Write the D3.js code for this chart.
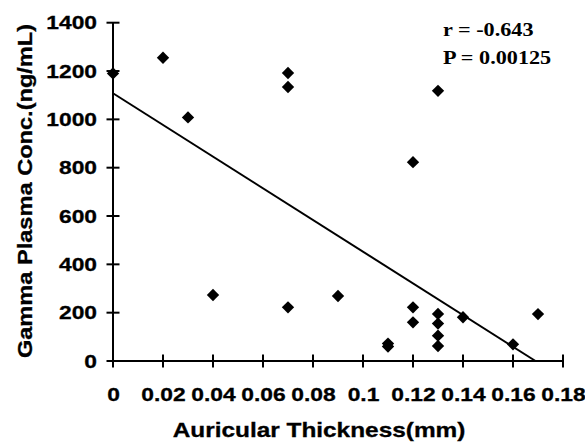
<!DOCTYPE html>
<html>
<head>
<meta charset="utf-8">
<script src="https://cdn.jsdelivr.net/npm/d3@7"></script>
<style>
  body { margin: 0; background: #fff; }
</style>
</head>
<body>
<script>
// auricular thickness (mm) vs gamma plasma conc (ng/mL)
var thickness = [0, 0.02, 0.03, 0.04, 0.07, 0.07, 0.07, 0.09, 0.11, 0.11,
                 0.12, 0.12, 0.12, 0.13, 0.13, 0.13, 0.13, 0.13, 0.14, 0.16, 0.17];
var conc = [1190, 1255, 1008, 273, 1192, 1134, 222, 269, 72, 60,
            823, 222, 160, 1118, 195, 155, 105, 62, 181, 69, 194];

var xTicks = [0, 0.02, 0.04, 0.06, 0.08, 0.1, 0.12, 0.14, 0.16, 0.18];
var yTicks = [0, 200, 400, 600, 800, 1000, 1200, 1400];

// trend line end points
var trend = [[0, 1108], [0.169, 0]];

var stats = ["r = -0.643", "P = 0.00125"];

var sans = "Arial, 'Liberation Sans', sans-serif";
var serif = "'Times New Roman', 'Liberation Serif', serif";
var stretch = 1.2; // the original lettering is wide

var w = 585, h = 442;
var svg = d3.select("body").append("svg")
    .attr("width", w)
    .attr("height", h);

var xScale = d3.scaleLinear().domain([0, 0.18]).range([113, 563]);
var yScale = d3.scaleLinear().domain([0, 1400]).range([361, 22.7]);

// axis lines
svg.append("line")
    .attr("x1", xScale(0)).attr("x2", xScale(0.18))
    .attr("y1", yScale(0)).attr("y2", yScale(0))
    .attr("stroke", "#000").attr("stroke-width", 2);
svg.append("line")
    .attr("x1", xScale(0)).attr("x2", xScale(0))
    .attr("y1", yScale(0)).attr("y2", yScale(1400))
    .attr("stroke", "#000").attr("stroke-width", 2);

// tick marks crossing the axes
svg.append("g").attr("class", "xticks").selectAll("line")
    .data(xTicks)
    .enter()
    .append("line")
    .attr("x1", function(d) { return xScale(d); })
    .attr("x2", function(d) { return xScale(d); })
    .attr("y1", yScale(0) - 6.5)
    .attr("y2", yScale(0) + 6.5)
    .attr("stroke", "#000")
    .attr("stroke-width", 2);
svg.append("g").attr("class", "yticks").selectAll("line")
    .data(yTicks)
    .enter()
    .append("line")
    .attr("x1", xScale(0) - 6.5)
    .attr("x2", xScale(0) + 6.5)
    .attr("y1", function(d) { return yScale(d); })
    .attr("y2", function(d) { return yScale(d); })
    .attr("stroke", "#000")
    .attr("stroke-width", 2);

// tick labels from the d3 axes (lines and domain dropped, drawn above)
var xAxis = svg.append("g")
    .attr("transform", "translate(0," + yScale(0) + ")")
    .call(d3.axisBottom(xScale).tickValues(xTicks).tickSize(0).tickFormat(d3.format("")));
var yAxis = svg.append("g")
    .attr("transform", "translate(" + xScale(0) + ",0)")
    .call(d3.axisLeft(yScale).tickValues(yTicks).tickSize(0).tickFormat(d3.format("d")));
[xAxis, yAxis].forEach(function(g) {
  g.select(".domain").remove();
  g.selectAll(".tick line").remove();
  g.selectAll(".tick text")
      .attr("font-size", 19)
      .attr("font-family", sans)
      .attr("font-weight", "bold")
      .attr("fill", "#000")
      .attr("stroke", "#000")
      .attr("stroke-width", 0.3)
      .attr("transform", "scale(" + stretch + ",1)");
});
xAxis.selectAll(".tick text").attr("y", 40).attr("dy", 0);
yAxis.selectAll(".tick text").attr("x", -16 / stretch);

// trend line
svg.append("line")
    .attr("x1", xScale(trend[0][0]))
    .attr("y1", yScale(trend[0][1]))
    .attr("x2", xScale(trend[1][0]))
    .attr("y2", yScale(trend[1][1]))
    .attr("stroke", "#000")
    .attr("stroke-width", 2);

// points
var diamond = d3.symbol().type(d3.symbolSquare).size(76);
svg.selectAll("path.pt")
    .data(thickness)
    .enter()
    .append("path")
    .attr("class", "pt")
    .attr("d", diamond)
    .attr("transform", function(d, i) {
      return "translate(" + xScale(d) + "," + yScale(conc[i]) + ")rotate(45)";
    })
    .attr("fill", "#000");

// axis titles
svg.append("text")
    .attr("transform", "translate(319,437)scale(1.22,1)")
    .attr("text-anchor", "middle")
    .attr("font-family", sans)
    .attr("font-weight", "bold")
    .attr("font-size", 20)
    .attr("stroke", "#000")
    .attr("stroke-width", 0.3)
    .text("Auricular Thickness(mm)");
svg.append("text")
    .attr("transform", "translate(32,191)rotate(-90)scale(1.18,1)")
    .attr("text-anchor", "middle")
    .attr("font-family", sans)
    .attr("font-weight", "bold")
    .attr("font-size", 20)
    .attr("stroke", "#000")
    .attr("stroke-width", 0.3)
    .text("Gamma Plasma Conc.(ng/mL)");

// r / P annotation
svg.selectAll("text.stat")
    .data(stats)
    .enter()
    .append("text")
    .attr("class", "stat")
    .attr("transform", function(d, i) {
      return "translate(443," + (36 + i * 28) + ")scale(" + stretch + ",1)";
    })
    .attr("font-family", serif)
    .attr("font-weight", "bold")
    .attr("font-size", 18.5)
    .text(function(d) { return d; });
</script>
</body>
</html>
